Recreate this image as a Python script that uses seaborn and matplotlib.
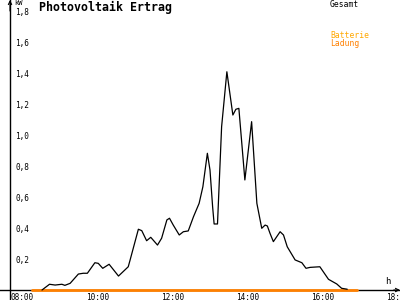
import matplotlib
matplotlib.use("Agg")
import matplotlib.pyplot as plt
import matplotlib.transforms as mtransforms
import seaborn as sns
import pandas as pd

# Gesamt (kW) over time of day (decimal hours)
gesamt_hours = [8.72, 8.92, 9.07, 9.25, 9.33, 9.47, 9.69, 9.82, 9.93, 10.13,
                10.22, 10.34, 10.51, 10.76, 11.02, 11.07, 11.29, 11.38, 11.51, 11.62,
                11.80, 11.91, 12.05, 12.12, 12.22, 12.38, 12.49, 12.62, 12.76, 12.91,
                13.01, 13.13, 13.20, 13.27, 13.31, 13.40, 13.51, 13.65, 13.81, 13.89,
                13.97, 14.13, 14.31, 14.45, 14.58, 14.67, 14.73, 14.80, 14.89, 15.07,
                15.16, 15.26, 15.47, 15.65, 15.76, 15.87, 16.13, 16.36, 16.58, 16.71,
                16.86]
gesamt_kw = [0.00, 0.037, 0.032, 0.037, 0.030, 0.043, 0.103, 0.108, 0.108, 0.176,
             0.172, 0.140, 0.166, 0.090, 0.150, 0.194, 0.392, 0.383, 0.318, 0.340,
             0.290, 0.334, 0.452, 0.463, 0.419, 0.355, 0.376, 0.381, 0.473, 0.559,
             0.666, 0.882, 0.774, 0.537, 0.426, 0.426, 1.054, 1.408, 1.129, 1.166,
             1.172, 0.710, 1.086, 0.559, 0.398, 0.419, 0.413, 0.366, 0.312, 0.376,
             0.355, 0.279, 0.194, 0.176, 0.140, 0.146, 0.150, 0.069, 0.039, 0.011,
             0.005]

# Batterie Ladung (kW)
ladung_hours = [8.45, 17.12]
ladung_kw = [0.0, 0.0]

x_ticks = [8, 10, 12, 14, 16, 18]
x_labels = ["08:00", "10:00", "12:00", "14:00", "16:00", "18:00"]
y_ticks = [0.2, 0.4, 0.6, 0.8, 1.0, 1.2, 1.4, 1.6, 1.8]
y_labels = ["0,2", "0,4", "0,6", "0,8", "1,0", "1,2", "1,4", "1,6", "1,8"]

title = "Photovoltaik Ertrag"
legend_gesamt = "Gesamt"
legend_batt1 = "Batterie"
legend_batt2 = "Ladung"

sns.set_style("white")
plt.rcParams["font.family"] = ["DejaVu Sans Mono", "DejaVu Sans"]

BLACK = "#000000"
ORANGE = "#ff8000"
YELLOW_ORANGE = "#ffa800"

fig = plt.figure(figsize=(4, 3), dpi=100)
ax = fig.add_axes([0, 0, 1, 1])

df_g = pd.DataFrame({"hour": gesamt_hours, "kw": gesamt_kw})
df_l = pd.DataFrame({"hour": ladung_hours, "kw": ladung_kw})

sns.lineplot(data=df_l, x="hour", y="kw", color=ORANGE, lw=2.0, ax=ax,
             estimator=None, legend=False, zorder=3)
sns.lineplot(data=df_g, x="hour", y="kw", color=BLACK, lw=0.9, ax=ax,
             estimator=None, legend=False, zorder=4)

ax.set_xlim(7.6, 18.267)
ax.set_ylim(-0.0645, 1.871)
ax.set_xlabel("")
ax.set_ylabel("")

for s in ["top", "right"]:
    ax.spines[s].set_visible(False)
ax.spines["left"].set_position(("data", 7.867))
ax.spines["bottom"].set_position(("data", 0))
ax.spines["left"].set_linewidth(1.0)
ax.spines["bottom"].set_linewidth(1.0)
ax.spines["left"].set_color(BLACK)
ax.spines["bottom"].set_color(BLACK)

ax.set_xticks(x_ticks)
ax.set_xticklabels(x_labels)
ax.set_yticks(y_ticks)
ax.set_yticklabels(y_labels)

ax.tick_params(axis="both", direction="inout", length=4, width=0.8,
               colors=BLACK, labelsize=5.6)
ax.tick_params(axis="y", pad=-5.6)
ax.tick_params(axis="x", pad=0.2)

for lbl in ax.get_yticklabels():
    lbl.set_ha("left")
off = mtransforms.ScaledTranslation(-4 / 100, 0, fig.dpi_scale_trans)
for lbl in ax.get_xticklabels():
    lbl.set_ha("left")
    lbl.set_transform(lbl.get_transform() + off)

# axis arrows
ax.annotate("", xy=(7.867, 1.871), xytext=(7.867, 1.80),
            arrowprops=dict(arrowstyle="->", lw=0.8, color=BLACK,
                            shrinkA=0, shrinkB=0, mutation_scale=6))
ax.annotate("", xy=(18.267, 0), xytext=(18.1, 0),
            arrowprops=dict(arrowstyle="->", lw=0.8, color=BLACK,
                            shrinkA=0, shrinkB=0, mutation_scale=6))

ax.text(14 / 400, 1 - 0 / 300, "kW", transform=ax.transAxes, fontsize=5.0,
        ha="left", va="top", color=BLACK)
ax.text(385 / 400, 1 - 277 / 300, "h", transform=ax.transAxes, fontsize=6.5,
        ha="left", va="top", color=BLACK)
ax.text(39 / 400, 1 - 1 / 300, title, transform=ax.transAxes, fontsize=8.4,
        fontweight="bold", ha="left", va="top", color=BLACK)
ax.text(330 / 400, 1 - 0 / 300, legend_gesamt, transform=ax.transAxes,
        fontsize=5.8, ha="left", va="top", color=BLACK)
ax.text(330 / 400, 1 - 31 / 300, legend_batt1, transform=ax.transAxes,
        fontsize=5.8, ha="left", va="top", color=YELLOW_ORANGE)
ax.text(330 / 400, 1 - 39 / 300, legend_batt2, transform=ax.transAxes,
        fontsize=5.8, ha="left", va="top", color=ORANGE)

fig.savefig("out.png", dpi=100)
